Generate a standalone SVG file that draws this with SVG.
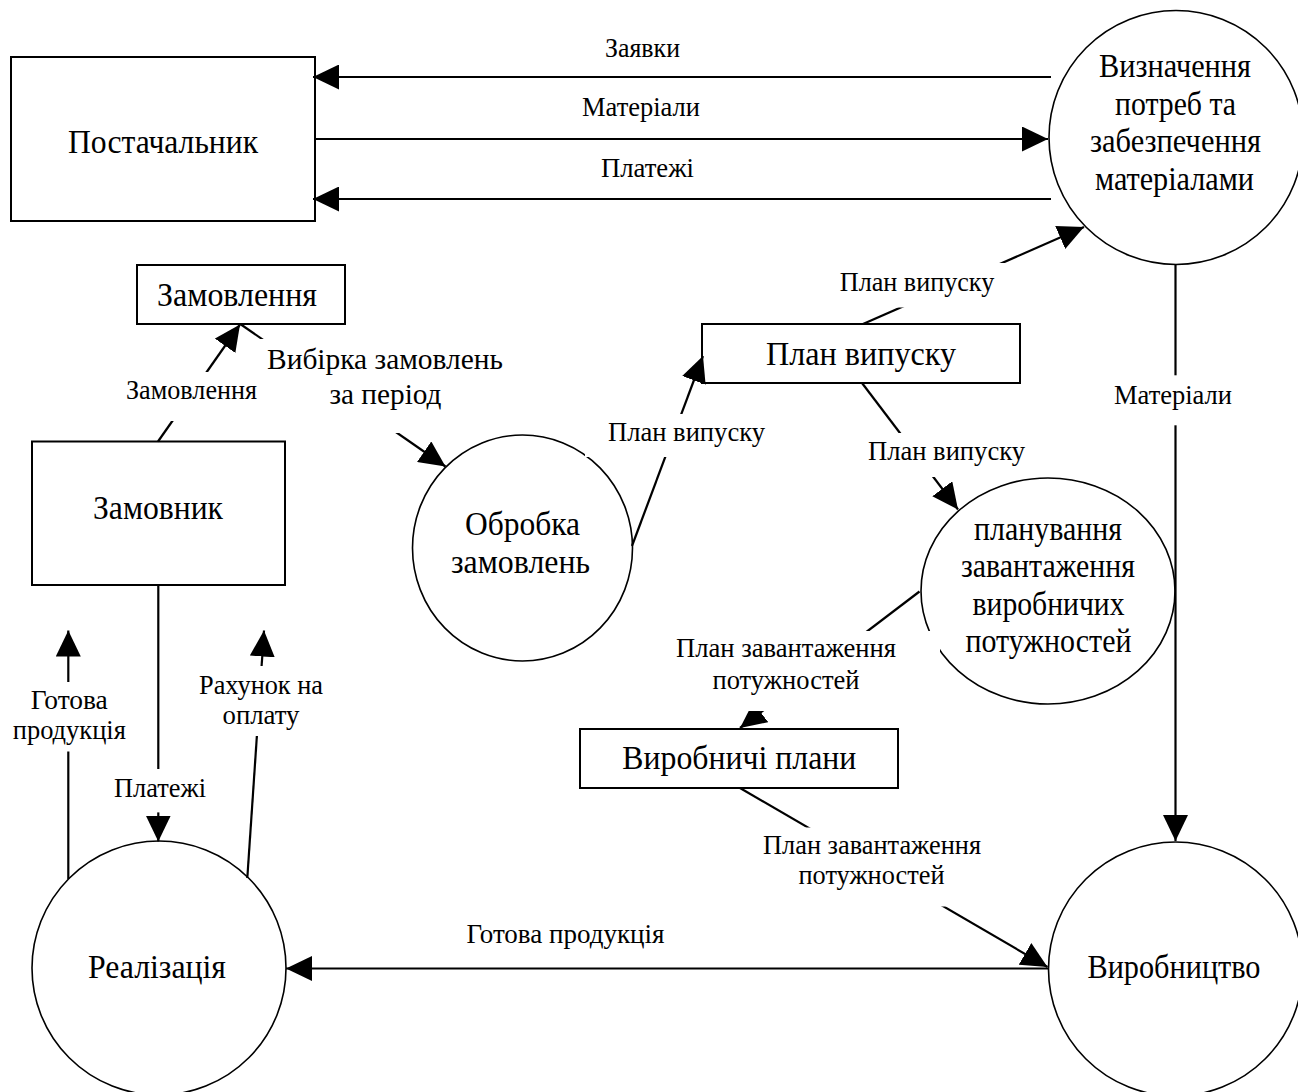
<svg xmlns="http://www.w3.org/2000/svg" width="1298" height="1092" viewBox="0 0 1298 1092">
  <style>
    .box { fill: #ffffff; stroke: #000000; stroke-width: 2; }
    .proc { fill: #ffffff; stroke: #000000; stroke-width: 1.6; }
    .node-text { font-family: "Liberation Serif", "Times New Roman", serif; font-size: 33px; fill: #000000; text-anchor: middle; }
    .flow { fill: none; stroke: #000000; stroke-width: 2.2; marker-end: url(#arrow); }
    .lbl-bg { fill: #ffffff; stroke: none; }
    .lbl { font-family: "Liberation Serif", "Times New Roman", serif; font-size: 27px; fill: #000000; text-anchor: middle; }
    .lbl-big { font-size: 30px; }
  </style>
  <defs>
    <marker id="arrow" markerUnits="userSpaceOnUse" viewBox="0 0 26 25" refX="26" refY="12.5" markerWidth="26" markerHeight="25" orient="auto">
      <path d="M0,0 L26,12.5 L0,25 Z" fill="#000000"/>
    </marker>
  </defs>
  <rect x="0" y="0" width="1298" height="1092" fill="#ffffff"/>

  <g id="node-postachalnyk">
    <rect class="box" x="11" y="57" width="304" height="164"/>
    <text class="node-text" x="163" y="153" textLength="190" lengthAdjust="spacingAndGlyphs">Постачальник</text>
  </g>
  <g id="node-vyznachennia">
    <circle class="proc" cx="1176" cy="137.5" r="127"/>
    <text class="node-text" x="1175" y="77" textLength="152" lengthAdjust="spacingAndGlyphs">Визначення</text>
    <text class="node-text" x="1175.5" y="114.5" textLength="121" lengthAdjust="spacingAndGlyphs">потреб та</text>
    <text class="node-text" x="1175.5" y="152" textLength="171" lengthAdjust="spacingAndGlyphs">забезпечення</text>
    <text class="node-text" x="1174.5" y="189.5" textLength="159" lengthAdjust="spacingAndGlyphs">матеріалами</text>
  </g>
  <g id="node-zamovlennia-store">
    <rect class="box" x="137" y="265" width="208" height="59"/>
    <text class="node-text" x="237" y="306" textLength="160" lengthAdjust="spacingAndGlyphs">Замовлення</text>
  </g>
  <g id="node-zamovnyk">
    <rect class="box" x="32" y="441.5" width="253" height="143.5"/>
    <text class="node-text" x="158" y="519" textLength="130" lengthAdjust="spacingAndGlyphs">Замовник</text>
  </g>
  <g id="node-obrobka">
    <ellipse class="proc" cx="522.5" cy="548" rx="110" ry="113"/>
    <text class="node-text" x="522.5" y="534.5" textLength="115" lengthAdjust="spacingAndGlyphs">Обробка</text>
    <text class="node-text" x="520.5" y="573" textLength="139" lengthAdjust="spacingAndGlyphs">замовлень</text>
  </g>
  <g id="node-plan-vypusku-store">
    <rect class="box" x="702" y="324" width="318" height="59"/>
    <text class="node-text" x="861" y="365" textLength="190" lengthAdjust="spacingAndGlyphs">План випуску</text>
  </g>
  <g id="node-planuvannia">
    <ellipse class="proc" cx="1048" cy="591" rx="127" ry="113"/>
    <text class="node-text" x="1048" y="540" textLength="148" lengthAdjust="spacingAndGlyphs">планування</text>
    <text class="node-text" x="1048" y="577" textLength="174" lengthAdjust="spacingAndGlyphs">завантаження</text>
    <text class="node-text" x="1048.5" y="614.5" textLength="152" lengthAdjust="spacingAndGlyphs">виробничих</text>
    <text class="node-text" x="1048.5" y="652" textLength="166" lengthAdjust="spacingAndGlyphs">потужностей</text>
  </g>
  <g id="node-vyrobnychi-plany-store">
    <rect class="box" x="580" y="729" width="318" height="59"/>
    <text class="node-text" x="739.3" y="769" textLength="234" lengthAdjust="spacingAndGlyphs">Виробничі плани</text>
  </g>
  <g id="node-realizatsiia">
    <circle class="proc" cx="159" cy="968" r="127"/>
    <text class="node-text" x="157" y="978" textLength="138" lengthAdjust="spacingAndGlyphs">Реалізація</text>
  </g>
  <g id="node-vyrobnytstvo">
    <circle class="proc" cx="1175.5" cy="969" r="127"/>
    <text class="node-text" x="1174" y="978" textLength="173" lengthAdjust="spacingAndGlyphs">Виробництво</text>
  </g>

  <g id="connectors">
    <path class="flow" d="M1051,77 L313,77"/>
    <path class="flow" d="M315,139 L1048,139"/>
    <path class="flow" d="M1051,199 L313,199"/>
    <path class="flow" d="M158,441.5 L240,324.5"/>
    <path class="flow" d="M241,324.5 L445.5,466.5"/>
    <path class="flow" d="M632,546 L703,356"/>
    <path class="flow" d="M863,324 L1084,227"/>
    <path class="flow" d="M862,383 L958,509.5"/>
    <path class="flow" d="M1175.5,264.5 L1175.5,841"/>
    <path class="flow" d="M919.5,591.5 L740,728"/>
    <path class="flow" d="M740,788 L1047.5,967"/>
    <path class="flow" d="M1048,968.5 L286,968.5"/>
    <path class="flow" d="M158.3,585 L158.3,841.5"/>
    <path class="flow" d="M68.3,879 L68.3,630.5"/>
    <path class="flow" d="M247.3,878 L264,630.5"/>

    <g id="label-backgrounds">
      <rect class="lbl-bg" x="120" y="372" width="143" height="49"/>
      <rect class="lbl-bg" x="255" y="339" width="260" height="94"/>
      <rect class="lbl-bg" x="585" y="414" width="203" height="43"/>
      <rect class="lbl-bg" x="825" y="263" width="185" height="44.5"/>
      <rect class="lbl-bg" x="860" y="433" width="175" height="44"/>
      <rect class="lbl-bg" x="1108" y="375.3" width="130" height="50"/>
      <rect class="lbl-bg" x="632" y="631" width="308" height="80"/>
      <rect class="lbl-bg" x="755" y="827.5" width="235" height="79"/>
      <rect class="lbl-bg" x="108" y="769" width="104" height="43.4"/>
      <rect class="lbl-bg" x="8" y="682" width="123" height="69.5"/>
      <rect class="lbl-bg" x="194" y="666" width="134" height="70"/>
    </g>

    <g id="labels">
      <text class="lbl" x="642.5" y="57" textLength="75" lengthAdjust="spacingAndGlyphs">Заявки</text>
      <text class="lbl" x="641" y="116" textLength="118" lengthAdjust="spacingAndGlyphs">Матеріали</text>
      <text class="lbl" x="647.5" y="177" textLength="93" lengthAdjust="spacingAndGlyphs">Платежі</text>
      <text class="lbl" x="191.5" y="399" textLength="131" lengthAdjust="spacingAndGlyphs">Замовлення</text>
      <text class="lbl lbl-big" x="385" y="369" textLength="236" lengthAdjust="spacingAndGlyphs">Вибірка замовлень</text>
      <text class="lbl lbl-big" x="385.5" y="404" textLength="112" lengthAdjust="spacingAndGlyphs">за період</text>
      <text class="lbl" x="686.5" y="440.5" textLength="157" lengthAdjust="spacingAndGlyphs">План випуску</text>
      <text class="lbl" x="917" y="291" textLength="154.5" lengthAdjust="spacingAndGlyphs">План випуску</text>
      <text class="lbl" x="946.5" y="460" textLength="157" lengthAdjust="spacingAndGlyphs">План випуску</text>
      <text class="lbl" x="1173" y="404" textLength="118" lengthAdjust="spacingAndGlyphs">Матеріали</text>
      <text class="lbl" x="786" y="657" textLength="220" lengthAdjust="spacingAndGlyphs">План завантаження</text>
      <text class="lbl" x="786" y="688.5" textLength="147" lengthAdjust="spacingAndGlyphs">потужностей</text>
      <text class="lbl" x="872" y="854" textLength="218" lengthAdjust="spacingAndGlyphs">План завантаження</text>
      <text class="lbl" x="871.5" y="884" textLength="146" lengthAdjust="spacingAndGlyphs">потужностей</text>
      <text class="lbl" x="565.5" y="943" textLength="198" lengthAdjust="spacingAndGlyphs">Готова продукція</text>
      <text class="lbl" x="69.3" y="709" textLength="77" lengthAdjust="spacingAndGlyphs">Готова</text>
      <text class="lbl" x="69.3" y="739" textLength="113" lengthAdjust="spacingAndGlyphs">продукція</text>
      <text class="lbl" x="261" y="694" textLength="124" lengthAdjust="spacingAndGlyphs">Рахунок на</text>
      <text class="lbl" x="261" y="723.6" textLength="77" lengthAdjust="spacingAndGlyphs">оплату</text>
      <text class="lbl" x="160" y="797" textLength="92" lengthAdjust="spacingAndGlyphs">Платежі</text>
    </g>
  </g>
</svg>
